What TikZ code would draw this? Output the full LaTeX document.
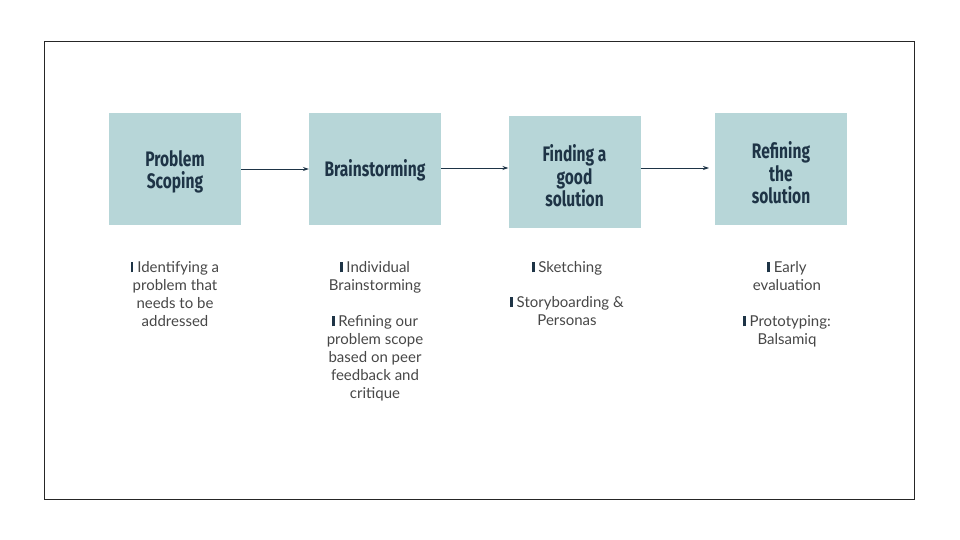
\documentclass[tikz,border=0pt]{standalone}
\usepackage{fontspec}
\setmainfont{Lato}
\newfontfamily\titlefont[FakeStretch=0.74]{Fira Sans}
\usetikzlibrary{arrows.meta}
\definecolor{boxfill}{HTML}{B7D6D8}
\definecolor{navy}{HTML}{1E3446}
\definecolor{bodytext}{HTML}{474747}
\tikzset{
  stage/.style={fill=boxfill, draw=none, minimum width=132pt, minimum height=112pt, inner sep=0pt},
  stagetext/.style={text=navy, align=center, inner sep=0pt, font=\titlefont\bfseries\fontsize{21}{22.5}\selectfont},
  flow/.style={draw=navy, line width=0.8pt, -{Stealth[length=6pt,width=4pt]}},
  notes/.style={anchor=north, align=center, text=bodytext, inner sep=0pt,
    font=\fontsize{15}{18}\selectfont},
}
\newcommand{\mybul}{{\color{navy}\rule{2.6pt}{10pt}}\space}
\begin{document}
\begin{tikzpicture}[x=1pt,y=-1pt]
\useasboundingbox (0,0) rectangle (960,540);
\draw[line width=0.8pt, draw=black!85] (44,41) rectangle (914,499);
\node[stage] (s1) at (175,169) {};
\node[stage] (s2) at (375,169) {};
\node[stage] (s3) at (574.5,172) {};
\node[stage] (s4) at (781,169) {};
\node[stagetext] (t1) at ([yshift=-3pt]s1.center) {Problem\\Scoping};
\node[stagetext] (t2) at ([yshift=-1pt]s2.center) {Brainstorming};
\node[stagetext] (t3) at ([yshift=-4pt]s3.center) {Finding a\\good\\solution};
\node[stagetext] (t4) at ([yshift=-4pt]s4.center) {Refining\\the\\solution};
\coordinate (e3) at (709,168);
\draw[flow] (s1.east) -- (s2.west |- s1.east);
\draw[flow] (s2.east |- 0,168) -- (s3.west |- 0,168);
\draw[flow] (s3.east |- e3) -- (e3);
\node[notes] (n1) at (175,261) {\mybul Identifying a\\problem that\\needs to be\\addressed};
\node[notes] (n2) at (375,261) {\mybul Individual\\Brainstorming\\[18pt]\mybul Refining our\\problem scope\\based on peer\\feedback and\\critique};
\node[notes] (n3) at (567,261) {\mybul Sketching\\[17pt]\mybul Storyboarding \&\\Personas};
\node[notes] (n4) at (787,261) {\mybul Early\\evaluation\\[18pt]\mybul Prototyping:\\Balsamiq};
\end{tikzpicture}
\end{document}
